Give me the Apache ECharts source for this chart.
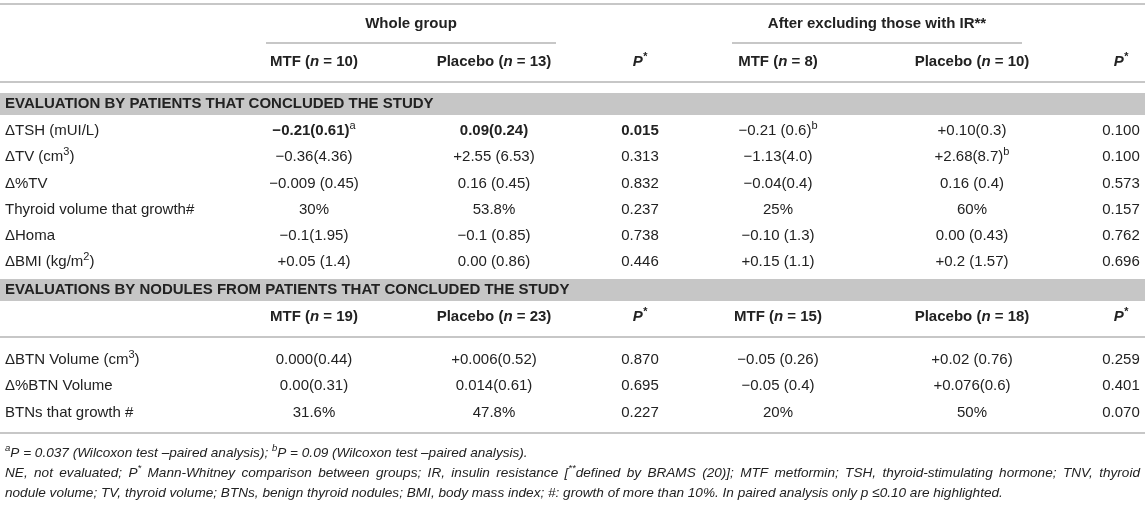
<!DOCTYPE html>
<html>
<head>
<meta charset="utf-8">
<script src="https://cdn.jsdelivr.net/npm/echarts@6/dist/echarts.min.js"></script>
<style>
  html, body { margin: 0; padding: 0; background: #fff; }
  #main { width: 1145px; height: 505px; }
</style>
</head>
<body>
<div id="main"></div>
<script>
// table content
const groupTitles = ['Whole group', 'After excluding those with IR**'];
const armNames = ['MTF', 'Placebo'];
const patientN = [10, 13, 8, 10];
const noduleN = [19, 23, 15, 18];
const sectionTitles = [
  'EVALUATION BY PATIENTS THAT CONCLUDED THE STUDY',
  'EVALUATIONS BY NODULES FROM PATIENTS THAT CONCLUDED THE STUDY'
];

const patientLabels = ['ΔTSH (mUI/L)', 'ΔTV (cm^{3})', 'Δ%TV', 'Thyroid volume that growth#', 'ΔHoma', 'ΔBMI (kg/m^{2})'];
const patientMtfAll = ['−0.21(0.61)^{a}', '−0.36(4.36)', '−0.009 (0.45)', '30%', '−0.1(1.95)', '+0.05 (1.4)'];
const patientPlaAll = ['0.09(0.24)', '+2.55 (6.53)', '0.16 (0.45)', '53.8%', '−0.1 (0.85)', '0.00 (0.86)'];
const patientPAll = ['0.015', '0.313', '0.832', '0.237', '0.738', '0.446'];
const patientMtfNoIR = ['−0.21 (0.6)^{b}', '−1.13(4.0)', '−0.04(0.4)', '25%', '−0.10 (1.3)', '+0.15 (1.1)'];
const patientPlaNoIR = ['+0.10(0.3)', '+2.68(8.7)^{b}', '0.16 (0.4)', '60%', '0.00 (0.43)', '+0.2 (1.57)'];
const patientPNoIR = ['0.100', '0.100', '0.573', '0.157', '0.762', '0.696'];
// highlighted cells (row, column) of the patient block
const patientHighlight = [[0, 0], [0, 1], [0, 2]];

const noduleLabels = ['ΔBTN Volume (cm^{3})', 'Δ%BTN Volume', 'BTNs that growth #'];
const noduleMtfAll = ['0.000(0.44)', '0.00(0.31)', '31.6%'];
const nodulePlaAll = ['+0.006(0.52)', '0.014(0.61)', '47.8%'];
const nodulePAll = ['0.870', '0.695', '0.227'];
const noduleMtfNoIR = ['−0.05 (0.26)', '−0.05 (0.4)', '20%'];
const nodulePlaNoIR = ['+0.02 (0.76)', '+0.076(0.6)', '50%'];
const nodulePNoIR = ['0.259', '0.401', '0.070'];

const footnotes = [
  '^{a}P = 0.037 (Wilcoxon test –paired analysis); ^{b}P = 0.09 (Wilcoxon test –paired analysis).',
  'NE, not evaluated; P^{*} Mann-Whitney comparison between groups; IR, insulin resistance [^{**}defined by BRAMS (20)]; MTF metformin; TSH, thyroid-stimulating hormone; TNV, thyroid',
  'nodule volume; TV, thyroid volume; BTNs, benign thyroid nodules; BMI, body mass index; #: growth of more than 10%. In paired analysis only p ≤0.10 are highlighted.'
];
const justifiedFootnote = 1;

// layout
const W = 1145, H = 505;
const FONT = '"Liberation Sans", Arial, Helvetica, sans-serif';
const INK = '#222';
const RULE = '#b4b4b4';
const BAND = '#c6c6c6';
const LINK = '#7f9cc0';
const LABEL_X = 5;
const RIGHT_X = 1140;
const COLS = [314, 494, 640, 778, 972, 1121];
const GROUP_X = [411, 877];
const GROUP_HALF = 145;
const ROW_STEP = 26.2;
const BODY = 15;
const NOTE = 13.6;
const SUP = 11;
const NOTE_SUP = 9.5;

const sup = (s, tag) => s.replace(/\^\{([^}]*)\}/g, '{' + tag + '|$1}');

const cells = [];
const rules = [];
const bands = [];
function addText(x, y, text, opt) {
  cells.push(Object.assign({ x: x, y: y, text: text, align: 'center', weight: 'normal', style: 'normal', size: BODY }, opt || {}));
}

// header
rules.push([0, 4, W]);
groupTitles.forEach((g, i) => {
  addText(GROUP_X[i], 24, g, { weight: 'bold' });
  rules.push([GROUP_X[i] - GROUP_HALF, 43, GROUP_X[i] + GROUP_HALF]);
});
function armHeader(y, ns) {
  ns.forEach((n, i) => {
    const col = i < 2 ? i : i + 1;
    addText(COLS[col], y, armNames[i % 2] + ' ({bi|n} = ' + n + ')', { weight: 'bold' });
  });
  addText(COLS[2], y, '{bi|P}{bsupi|*}', { weight: 'bold' });
  addText(COLS[5], y, '{bi|P}{bsupi|*}', { weight: 'bold' });
}
armHeader(62, patientN);
rules.push([0, 82, W]);

// patient block
bands.push([93, 115]);
addText(LABEL_X, 104, sectionTitles[0], { align: 'left', weight: 'bold' });
const patientCols = [patientMtfAll, patientPlaAll, patientPAll, patientMtfNoIR, patientPlaNoIR, patientPNoIR];
patientLabels.forEach((lab, r) => {
  const y = 131 + r * ROW_STEP;
  addText(LABEL_X, y, sup(lab, 'sup'), { align: 'left' });
  patientCols.forEach((col, c) => {
    const hi = patientHighlight.some(h => h[0] === r && h[1] === c);
    addText(COLS[c], y, sup(col[r], 'sup'), { weight: hi ? 'bold' : 'normal' });
  });
});

// nodule block
bands.push([279, 301]);
addText(LABEL_X, 290, sectionTitles[1], { align: 'left', weight: 'bold' });
armHeader(317, noduleN);
rules.push([0, 337, W]);
const noduleCols = [noduleMtfAll, nodulePlaAll, nodulePAll, noduleMtfNoIR, nodulePlaNoIR, nodulePNoIR];
noduleLabels.forEach((lab, r) => {
  const y = 360 + r * ROW_STEP;
  addText(LABEL_X, y, sup(lab, 'sup'), { align: 'left' });
  noduleCols.forEach((col, c) => addText(COLS[c], y, sup(col[r], 'sup')));
});
rules.push([0, 433, W]);

// footnotes (the long middle line is justified to the table width)
const measureCtx = document.createElement('canvas').getContext('2d');
function textWidth(str, size) {
  measureCtx.font = 'italic ' + size + 'px ' + FONT;
  return measureCtx.measureText(str).width;
}
function justify(t) {
  const parts = t.split(/(\{\w+\|[^}]*\})/).filter(s => s.length);
  let natural = 0, spaces = 0;
  parts.forEach(p => {
    const m = p.match(/^\{(\w+)\|([^}]*)\}$/);
    if (m) natural += textWidth(m[2], m[1] === 'isup' ? NOTE_SUP : NOTE);
    else { natural += textWidth(p, NOTE); spaces += (p.match(/ /g) || []).length; }
  });
  const gap = textWidth(' ', NOTE) + Math.max(0, (RIGHT_X - LABEL_X - natural) / spaces);
  rich.sp.width = gap;
  return parts.map(p => /^\{/.test(p) ? p : p.replace(/ /g, '{sp| }')).join('');
}

const rich = {
  sup: { fontFamily: FONT, fontSize: SUP, verticalAlign: 'top', lineHeight: 12, color: INK },
  isup: { fontFamily: FONT, fontSize: NOTE_SUP, fontStyle: 'italic', verticalAlign: 'top', lineHeight: 10, color: INK },
  bi: { fontFamily: FONT, fontSize: BODY, fontWeight: 'bold', fontStyle: 'italic', color: INK },
  bsupi: { fontFamily: FONT, fontSize: SUP, fontWeight: 'bold', fontStyle: 'italic', verticalAlign: 'top', lineHeight: 12, color: INK },
  link: { fontFamily: FONT, fontSize: NOTE, fontStyle: 'italic', color: LINK },
  sp: { fontFamily: FONT, fontSize: NOTE, fontStyle: 'italic', color: INK, width: 4 }
};

footnotes.forEach((f, i) => {
  let t = sup(f, 'isup').replace('(20)', '{link|(20)}');
  if (i === justifiedFootnote) t = justify(t);
  addText(LABEL_X, 453 + i * 20, t, { align: 'left', style: 'italic', size: NOTE });
});

const chart = echarts.init(document.getElementById('main'), null, { renderer: 'canvas' });
chart.setOption({
  animation: false,
  backgroundColor: '#fff',
  grid: { left: 0, right: 0, top: 0, bottom: 0 },
  xAxis: { type: 'value', min: 0, max: W, show: false },
  yAxis: { type: 'value', min: 0, max: H, inverse: true, show: false },
  series: [
    {
      type: 'custom',
      silent: true,
      clip: false,
      data: bands.map(b => [0, b[0], W, b[1]]),
      renderItem: (params, api) => {
        const a = api.coord([api.value(0), api.value(1)]);
        const b = api.coord([api.value(2), api.value(3)]);
        return { type: 'rect', shape: { x: a[0], y: a[1], width: b[0] - a[0], height: b[1] - a[1] }, style: { fill: BAND } };
      }
    },
    {
      type: 'custom',
      silent: true,
      clip: false,
      data: rules,
      renderItem: (params, api) => {
        const a = api.coord([api.value(0), api.value(1)]);
        const b = api.coord([api.value(2), api.value(1)]);
        return { type: 'line', shape: { x1: a[0], y1: a[1], x2: b[0], y2: b[1] }, style: { stroke: RULE, lineWidth: 1.6 } };
      }
    },
    {
      type: 'custom',
      silent: true,
      clip: false,
      data: cells.map(c => [c.x, c.y]),
      renderItem: (params, api) => {
        const c = cells[params.dataIndex];
        const p = api.coord([api.value(0), api.value(1)]);
        return {
          type: 'text',
          x: p[0],
          y: p[1],
          style: {
            text: c.text,
            rich: rich,
            fill: INK,
            fontFamily: FONT,
            fontSize: c.size,
            fontWeight: c.weight,
            fontStyle: c.style,
            lineHeight: Math.round(c.size * 1.4),
            align: c.align,
            verticalAlign: 'middle'
          }
        };
      }
    }
  ]
});
</script>
</body>
</html>
